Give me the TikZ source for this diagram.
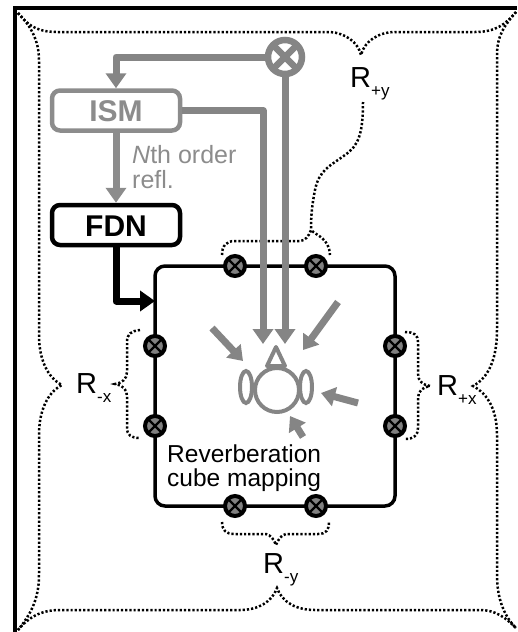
\documentclass[tikz,border=0pt]{standalone}
\usepackage{fontspec}
\setmainfont{Liberation Sans}
\usetikzlibrary{arrows.meta}
\definecolor{grayline}{HTML}{858585}
\definecolor{graytext}{HTML}{8C8C8C}
\definecolor{grayfill}{HTML}{808080}
\newcommand{\rlabel}[1]{\fontsize{29}{29}\selectfont R\raisebox{-9pt}{\fontsize{17}{17}\selectfont #1}}
\tikzset{
  boxnode/.style={draw,rounded corners=8pt,line width=4.5pt,minimum width=128pt,minimum height=40pt,inner sep=0pt,font=\bfseries\fontsize{30}{30}\selectfont,text height=22pt,text depth=0pt},
  spk/.style={circle,draw=black,fill=grayfill,line width=4pt,minimum size=20pt,inner sep=0pt,
    path picture={\draw[black,line width=2.3pt] (path picture bounding box.north west)--(path picture bounding box.south east) (path picture bounding box.north east)--(path picture bounding box.south west);}},
  sumnode/.style={circle,draw=grayline,line width=6.5pt,minimum size=34pt,inner sep=0pt,
    path picture={\draw[grayline,line width=6.5pt] (path picture bounding box.north west)--(path picture bounding box.south east) (path picture bounding box.north east)--(path picture bounding box.south west);}},
  conn/.style={line width=7pt,line join=round,-{Triangle[width=20pt,length=15pt]}},
  small/.style={grayline,line width=7pt,line join=round,-{Triangle[width=19pt,length=14pt]}},
  dots/.style={black,line width=2.5pt,dash pattern=on 2.2pt off 2pt},
  lab/.style={inner sep=0pt,anchor=base west},
}
\begin{document}
\begin{tikzpicture}[x=1pt,y=-1pt]
\useasboundingbox (0,0) rectangle (517,632);
% room frame
\draw[line width=4.5pt] (15,632) -- (15,8) -- (517,8);
% big brace
\draw[dots] (18,13) .. controls (30,28) and (40,32) .. (58,32) -- (330,32)
  .. controls (345,33) and (358,42) .. (361,55)
  .. controls (364,42) and (378,32) .. (395,32) -- (475,32)
  .. controls (495,32) and (505,25) .. (516,12);
\draw[dots] (18,13) .. controls (30,25) and (39,40) .. (39,60) -- (39,335)
  .. controls (39,360) and (48,378) .. (62,385)
  .. controls (48,392) and (39,410) .. (39,435) -- (39,575)
  .. controls (39,600) and (30,615) .. (18,630);
\draw[dots] (18,630) .. controls (28,618) and (40,610) .. (60,610) -- (240,610)
  .. controls (258,610) and (272,602) .. (277,588)
  .. controls (282,602) and (296,610) .. (315,610) -- (480,610)
  .. controls (495,610) and (505,617) .. (516,628);
\draw[dots] (516,12) .. controls (505,25) and (497,35) .. (497,55) -- (497,330)
  .. controls (497,360) and (488,378) .. (473,386)
  .. controls (488,394) and (497,410) .. (497,435) -- (497,575)
  .. controls (497,600) and (505,617) .. (516,628);
% small braces
\draw[dots] (222,255) .. controls (222,246) and (226,241) .. (235,241) -- (300,241)
  .. controls (305,241) and (309,236) .. (311,230)
  .. controls (317,236) and (329,238) .. (330,255);
\draw[dots] (363,102) .. controls (363,135) and (358,146) .. (345,155)
  .. controls (330,166) and (319,170) .. (315,190) .. controls (312,205) and (311,215) .. (311,230);
\draw[dots] (222,522) .. controls (222,530) and (226,534) .. (234,534) -- (266,534)
  .. controls (271,535) and (274,540) .. (276,545)
  .. controls (278,540) and (281,535) .. (286,534) -- (318,534)
  .. controls (326,534) and (329,530) .. (329,522);
\draw[dots] (140,330) .. controls (131,331) and (127,334) .. (127,342) -- (127,372)
  .. controls (127,379) and (122,383) .. (115,384)
  .. controls (122,385) and (127,389) .. (127,396) -- (127,428)
  .. controls (127,435) and (131,438) .. (140,438);
\draw[dots] (405,332) .. controls (414,332) and (418,335) .. (418,342) -- (418,374)
  .. controls (418,381) and (423,385) .. (430,386)
  .. controls (423,387) and (418,391) .. (418,398) -- (418,428)
  .. controls (418,435) and (414,439) .. (405,439);
% nodes
\node[boxnode,draw=graytext,text=graytext] (ism) at (116,110.5) {ISM};
\node[boxnode,draw=black,text=black] (fdn) at (116,225) {FDN};
\node[sumnode] (sum) at (285,57) {};
\node[draw,line width=3.5pt,rounded corners=10pt,minimum width=240pt,minimum height=240pt,inner sep=0pt] (cube) at (275,386) {};
\foreach \n/\p in {a/{235,266},b/{316,266},c/{155,346},d/{155,426},e/{395,346},f/{395,426},g/{235,506},h/{316,506}}
  \node[spk] (\n) at (\p) {};
% targets
\coordinate (t1) at (263,344);
\coordinate (t2) at (285,344);
\coordinate (t3) at (155,301);
% connectors
\draw[conn,grayline] (sum.west) -| (ism.north);
\draw[conn,graytext] (ism.south) -- (fdn.north);
\draw[conn,grayline] (ism.east) -| (t1);
\draw[conn,grayline] (sum.south) -- (t2);
\draw[conn,black] (fdn.south) |- (t3);
% incident sound arrows
\coordinate (a1) at (338,302); \coordinate (a2) at (303,350);
\coordinate (b1) at (212,328); \coordinate (b2) at (243,361);
\coordinate (c1) at (358,403); \coordinate (c2) at (321,393);
\coordinate (d1) at (303,437); \coordinate (d2) at (290,416);
\draw[small] (a1) -- (a2);
\draw[small] (b1) -- (b2);
\draw[small] (c1) -- (c2);
\draw[small] (d1) -- (d2);
% listener
\draw[grayline,line width=4pt] (277,390) circle (22pt);
\draw[grayline,line width=4pt] (246,387) circle[x radius=6pt,y radius=16pt];
\draw[grayline,line width=4pt] (306,387) circle[x radius=6pt,y radius=16pt];
\draw[grayline,line width=4pt,line join=round] (267,366) -- (276,347) -- (285,366) -- cycle;
% texts
\node[inner sep=0pt,anchor=north west,align=left,text=graytext,font=\fontsize{25}{25}\selectfont] (nth) at (132,145) {\textit{N}th order\\refl.};
\node[inner sep=0pt,anchor=north west,align=left,font=\fontsize{24.5}{24}\selectfont] (rev) at (167,445) {Reverberation\\cube mapping};
\node[lab] (ry) at (350,87) {\rlabel{+y}};
\node[lab] (rx) at (76,393) {\rlabel{-x}};
\node[lab] (rpx) at (437,395) {\rlabel{+x}};
\node[lab] (rmy) at (263,573) {\rlabel{-y}};
\end{tikzpicture}
\end{document}
